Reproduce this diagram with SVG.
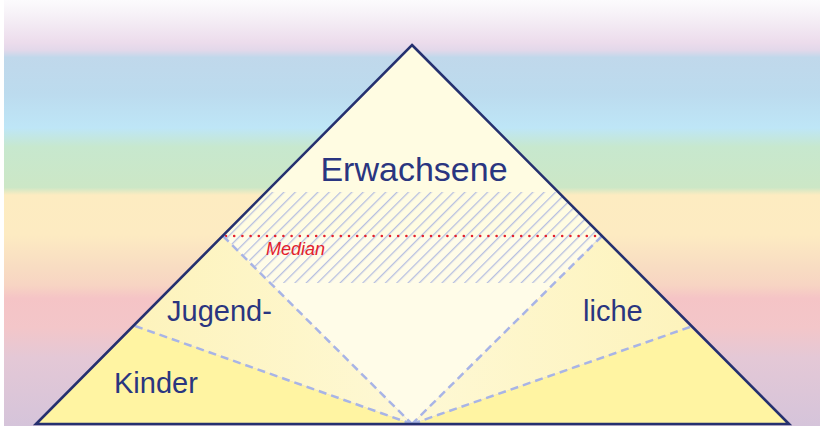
<svg xmlns="http://www.w3.org/2000/svg" width="820" height="426" viewBox="0 0 820 426">
  <defs>
    <!-- pastel colour bands behind the pyramid -->
    <linearGradient id="bands" x1="0" y1="0" x2="0" y2="426" gradientUnits="userSpaceOnUse">
      <stop offset="0" stop-color="#fcfbfd"/>
      <stop offset="0.03" stop-color="#f7f3f8"/>
      <stop offset="0.10" stop-color="#ecdcec"/>
      <stop offset="0.118" stop-color="#e2d8ea"/>
      <stop offset="0.135" stop-color="#c0d8eb"/>
      <stop offset="0.22" stop-color="#bcdbee"/>
      <stop offset="0.30" stop-color="#bee6f7"/>
      <stop offset="0.345" stop-color="#c7e8ce"/>
      <stop offset="0.44" stop-color="#cce7c6"/>
      <stop offset="0.458" stop-color="#fdecc1"/>
      <stop offset="0.55" stop-color="#fdebc2"/>
      <stop offset="0.63" stop-color="#f8dcc2"/>
      <stop offset="0.67" stop-color="#f7d4c3"/>
      <stop offset="0.70" stop-color="#f5c4c6"/>
      <stop offset="0.77" stop-color="#f3c6c9"/>
      <stop offset="0.84" stop-color="#e4c8d6"/>
      <stop offset="1" stop-color="#d5c4da"/>
    </linearGradient>
    <linearGradient id="teenL" x1="135" y1="0" x2="412" y2="0" gradientUnits="userSpaceOnUse">
      <stop offset="0" stop-color="#fdf3bc"/>
      <stop offset="1" stop-color="#fef8d4"/>
    </linearGradient>
    <linearGradient id="teenR" x1="690" y1="0" x2="412" y2="0" gradientUnits="userSpaceOnUse">
      <stop offset="0" stop-color="#fdf3bc"/>
      <stop offset="1" stop-color="#fef8d4"/>
    </linearGradient>
    <pattern id="hatch" width="8" height="8" patternUnits="userSpaceOnUse" patternTransform="rotate(45)">
      <line x1="0" y1="0" x2="0" y2="8" stroke="#b6bfe1" stroke-width="2.6"/>
    </pattern>
    <clipPath id="medianBand">
      <polygon points="265,192 560,192 602,236 553,283 273,283 223,236"/>
    </clipPath>
  </defs>
  <style>
    .label { font-family: "Liberation Sans", Arial, sans-serif; fill: #2a3580; }
    .divider { fill: none; stroke: #a8b4e6; stroke-width: 2.5; stroke-dasharray: 8 5; }
    .outline { fill: none; stroke: #25306f; stroke-width: 2.6; stroke-linejoin: miter; }
  </style>

  <!-- background -->
  <rect x="0" y="0" width="820" height="426" fill="#ffffff"/>
  <rect x="4" y="0" width="816" height="426" fill="url(#bands)"/>

  <!-- adults: upper part of the pyramid -->
  <g id="adults">
    <polygon points="412,45 223,236 602,236" fill="#fffce2"/>
    <polygon points="223,236 602,236 412,424" fill="#fffce8"/>
    <text class="label" x="414" y="181" font-size="34" text-anchor="middle">Erwachsene</text>
  </g>

  <!-- adolescents: side wedges -->
  <g id="adolescents">
    <polygon points="223,236 135,326 412,424" fill="url(#teenL)"/>
    <polygon points="602,236 690,327 412,424" fill="url(#teenR)"/>
    <text class="label" x="167" y="321" font-size="29">Jugend-</text>
    <text class="label" x="583" y="321" font-size="29">liche</text>
  </g>

  <!-- children: bottom corners -->
  <g id="children">
    <polygon points="36,424 135,326 412,424" fill="#fff4a2"/>
    <polygon points="789,424 690,327 412,424" fill="#fff4a2"/>
    <text class="label" x="114" y="393" font-size="29">Kinder</text>
  </g>

  <!-- hatched band around the median -->
  <g id="median">
    <rect x="200" y="185" width="420" height="105" fill="url(#hatch)" clip-path="url(#medianBand)"/>
    <line x1="226" y1="236" x2="599" y2="236" stroke="#e3202c" stroke-width="2.6" stroke-linecap="round" stroke-dasharray="0 8.2"/>
    <text x="266" y="255" font-family="'Liberation Sans', Arial, sans-serif" font-style="italic" font-size="18" fill="#e3202c">Median</text>
  </g>

  <!-- dashed dividers from the base centre -->
  <g id="connectors">
    <line class="divider" x1="223" y1="236" x2="412" y2="424"/>
    <line class="divider" x1="602" y1="236" x2="412" y2="424"/>
    <line class="divider" x1="135" y1="326" x2="412" y2="424"/>
    <line class="divider" x1="690" y1="327" x2="412" y2="424"/>
  </g>

  <!-- pyramid outline -->
  <g id="outline">
    <polygon class="outline" points="412,45 789,424 36,424"/>
  </g>
</svg>
